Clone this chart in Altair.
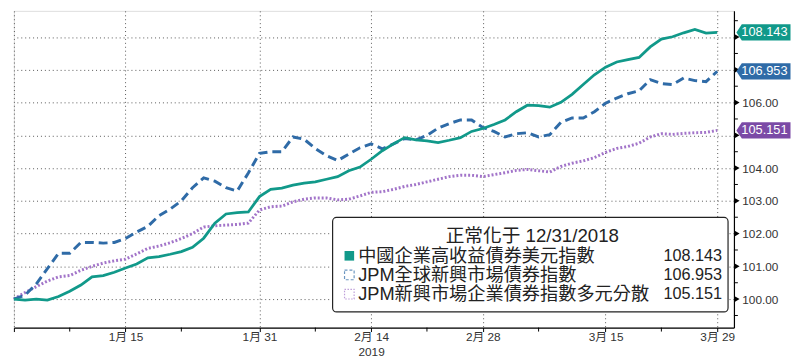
import altair as alt
import pandas as pd

# ---------------- data ----------------
dates = [d.strftime("%Y-%m-%d") for d in pd.bdate_range("2019-01-01", "2019-03-29")]

teal = [100.00, 99.97, 100.00, 99.97, 100.08, 100.24, 100.43, 100.68, 100.72, 100.82,
        100.95, 101.07, 101.26, 101.30, 101.37, 101.45, 101.58, 101.86, 102.32, 102.60,
        102.64, 102.66, 103.13, 103.35, 103.39, 103.48, 103.54, 103.58, 103.66, 103.74,
        103.92, 104.03, 104.27, 104.53, 104.74, 104.93, 104.86, 104.83, 104.78, 104.85,
        104.93, 105.12, 105.21, 105.33, 105.47, 105.72, 105.92, 105.91, 105.86, 106.01,
        106.25, 106.55, 106.85, 107.08, 107.24, 107.31, 107.38, 107.70, 107.94, 108.01,
        108.13, 108.23, 108.12, 108.143]

blue = [100.00, 100.12, 100.46, 100.93, 101.40, 101.40, 101.73, 101.73, 101.71, 101.73,
        101.85, 102.05, 102.22, 102.55, 102.75, 103.00, 103.40, 103.70, 103.60, 103.40,
        103.30, 103.85, 104.45, 104.50, 104.50, 104.95, 104.88, 104.60, 104.38, 104.23,
        104.43, 104.62, 104.74, 104.59, 104.74, 104.90, 104.86, 105.00, 105.22, 105.36,
        105.47, 105.47, 105.24, 105.12, 104.95, 105.05, 105.08, 104.95, 105.02, 105.40,
        105.53, 105.53, 105.72, 105.98, 106.14, 106.27, 106.36, 106.70, 106.58, 106.55,
        106.75, 106.67, 106.64, 106.953]

purple = [100.00, 100.20, 100.38, 100.55, 100.68, 100.72, 100.88, 101.00, 101.10, 101.17,
          101.22, 101.38, 101.55, 101.62, 101.72, 101.85, 102.00, 102.20, 102.24, 102.26,
          102.28, 102.32, 102.72, 102.82, 102.84, 102.97, 103.05, 103.09, 103.09, 103.03,
          103.05, 103.15, 103.26, 103.28, 103.35, 103.44, 103.50, 103.58, 103.66, 103.74,
          103.78, 103.78, 103.74, 103.80, 103.86, 103.93, 103.96, 103.92, 103.88, 104.05,
          104.15, 104.22, 104.32, 104.48, 104.60, 104.66, 104.76, 104.95, 105.05, 105.03,
          105.06, 105.08, 105.09, 105.151]

names = ["中國企業高收益債券美元指數", "JPM全球新興市場債券指數", "JPM新興市場企業債券指數多元分散"]
last_text = ["108.143", "106.953", "105.151"]
legend_title = "正常化于 12/31/2018"

line_colors = ["#11998a", "#2f6ba7", "#a274c9"]
tag_colors = ["#11998a", "#2f6ba7", "#7b4aa6"]

tick_dates = ["2019-01-15", "2019-01-31", "2019-02-14", "2019-02-28", "2019-03-15", "2019-03-29"]
tick_labels = ["1月 15", "1月 31", "2月 14", "2月 28", "3月 15", "3月 29"]
year_label = "2019"
minor_dates = ["2019-01-08", "2019-01-22", "2019-02-07", "2019-02-21", "2019-03-07", "2019-03-22"]

y_ticks = [100, 101, 102, 103, 104, 105, 106, 107, 108]
y_hidden = [105, 107, 108]          # labels covered by the value tags
y_minor = [99.5, 100.5, 101.5, 102.5, 103.5, 104.5, 105.5, 106.5, 107.5, 108.5]

# ---------------- layout ----------------
W, H = 732, 322
FONT = "Liberation Sans, Noto Sans CJK TC"

idx = {d: i for i, d in enumerate(dates)}
tick_idx = [idx[d] for d in tick_dates]
minor_idx = [idx[d] for d in minor_dates]

parts = []
for i, lab in zip(tick_idx, tick_labels):
    if lab == "2月 14":
        parts.append(f"datum.value == {i} ? ['{lab}', '{year_label}']")
    else:
        parts.append(f"datum.value == {i} ? '{lab}'")
label_expr = " : ".join(parts) + " : ''"
y_label_expr = ("indexof(" + str(y_hidden) + ", datum.value) >= 0 ? '' : format(datum.value, '.2f')")

xscale = alt.Scale(domain=[0, 64.5], nice=False, zero=False)
yscale = alt.Scale(domain=[99.13, 108.8], nice=False, zero=False)

x_axis = alt.Axis(values=[0] + tick_idx, labelExpr=label_expr, grid=True,
                  gridDash=[1, 3], gridColor="#444", gridWidth=1, gridOpacity=0.9,
                  domainColor="#000", domainWidth=1.2, tickColor="#000", tickSize=4,
                  labelFontSize=12, labelColor="#333", labelPadding=0, labelLineHeight=15,
                  labelFont=FONT, title=None)
y_axis = alt.Axis(orient="right", values=y_ticks, labelExpr=y_label_expr, grid=True,
                  gridDash=[1, 3], gridColor="#444", gridWidth=1, gridOpacity=0.9,
                  domainColor="#000", domainWidth=1.2, ticks=False, labelPadding=8,
                  labelFontSize=12, labelColor="#333", labelFont=FONT, title=None)

X = alt.X("i:Q", scale=xscale, axis=x_axis)
Y = alt.Y("v:Q", scale=yscale, axis=y_axis)

frames = []
for name, vals in zip(names, [teal, blue, purple]):
    frames.append(pd.DataFrame({"i": range(len(vals)), "v": vals, "s": name}))

styles = [dict(strokeWidth=2.8),
          dict(strokeWidth=3, strokeDash=[9, 5]),
          dict(strokeWidth=3, strokeDash=[2, 2])]

layers = []
for k in [2, 1, 0]:
    layers.append(alt.Chart(frames[k]).mark_line(color=line_colors[k], **styles[k]).encode(x=X, y=Y))

# minor ticks and tick arrows
layers.append(alt.Chart(pd.DataFrame({"v": y_minor})).mark_rule(color="#000", strokeWidth=1).encode(
    y=Y, x=alt.value(W), x2=alt.value(W + 4)))
layers.append(alt.Chart(pd.DataFrame({"v": y_ticks})).mark_point(
    shape="triangle-right", filled=True, color="#000", size=40, opacity=1).encode(
    y=Y, x=alt.value(W + 3)))
layers.append(alt.Chart(pd.DataFrame({"i": minor_idx})).mark_rule(color="#000", strokeWidth=1).encode(
    x=X, y=alt.value(H), y2=alt.value(H + 4)))

# value tags
tag_df = pd.DataFrame({"v": [teal[-1], blue[-1], purple[-1]], "t": last_text, "c": tag_colors})
tag_path = "M -1 0 L -0.8 -0.3 L 1 -0.3 L 1 0.3 L -0.8 0.3 Z"
layers.append(alt.Chart(tag_df).mark_point(shape=tag_path, filled=True, size=3025, opacity=1).encode(
    y=Y, x=alt.value(W + 30), color=alt.Color("c:N", scale=None)))
layers.append(alt.Chart(tag_df).mark_text(color="white", fontSize=13, font=FONT).encode(
    y=Y, x=alt.value(W + 31), text="t:N"))

# legend box
one = pd.DataFrame({"a": [0]})
LX0, LX1, LY0, LY1 = 324, 726, 210, 306
layers.append(alt.Chart(one).mark_rect(fill="white", stroke="#222", strokeWidth=1.2,
                                       cornerRadius=4).encode(
    x=alt.value(LX0), x2=alt.value(LX1), y=alt.value(LY0), y2=alt.value(LY1)))
layers.append(alt.Chart(pd.DataFrame({"t": [legend_title]})).mark_text(
    fontSize=19, font=FONT, color="#222", align="center").encode(
    x=alt.value((LX0 + LX1) / 2 + 2), y=alt.value(LY0 + 19), text="t:N"))

sym_styles = [dict(filled=True, fill=tag_colors[0], color=tag_colors[0], opacity=1),
              dict(filled=False, color=line_colors[1], strokeDash=[3, 2], strokeWidth=1.2),
              dict(filled=False, color=line_colors[2], strokeDash=[1.5, 1.5], strokeWidth=1.2)]
for k in range(3):
    yk = LY0 + 39 + 19.5 * k
    row = pd.DataFrame({"n": [names[k]], "t": [last_text[k]]})
    layers.append(alt.Chart(row).mark_point(shape="square", size=95, **sym_styles[k]).encode(
        x=alt.value(LX0 + 17), y=alt.value(yk)))
    layers.append(alt.Chart(row).mark_text(fontSize=18.5, font=FONT, color="#222", align="left").encode(
        x=alt.value(LX0 + 26), y=alt.value(yk), text="n:N"))
    layers.append(alt.Chart(row).mark_text(fontSize=16.5, font=FONT, color="#222", align="right").encode(
        x=alt.value(LX1 - 6), y=alt.value(yk), text="t:N"))

chart = alt.layer(*layers).properties(width=W, height=H, padding=0).configure_view(
    stroke=None).configure(font=FONT)

chart.save("out.html", embed_options={"renderer": "svg", "actions": False})
